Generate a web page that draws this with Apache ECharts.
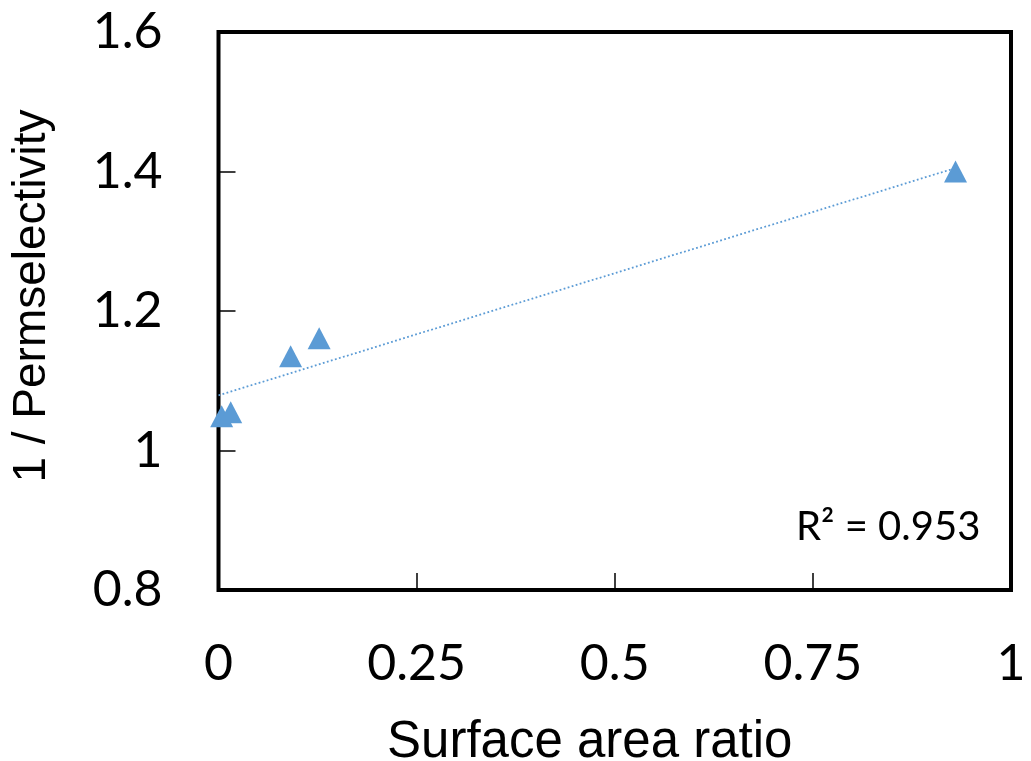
<!DOCTYPE html>
<html>
<head>
<meta charset="utf-8">
<script src="https://cdn.jsdelivr.net/npm/echarts@6/dist/echarts.min.js"></script>
<style>
html,body{margin:0;padding:0;background:#fff;}
#chart{width:1031px;height:761px;}
</style>
</head>
<body>
<div id="chart"></div>
<script>
// Data
var surfaceAreaRatio = [0.004, 0.0154, 0.091, 0.127, 0.930];
var invPermselectivity = [1.049, 1.055, 1.135, 1.161, 1.400];
// Linear trendline endpoints (as drawn in the reference)
var trendX = [0, 0.930];
var trendY = [1.079, 1.405];
var xTicks = {min: 0, max: 1, interval: 0.25};
var yTicks = {min: 0.8, max: 1.6, interval: 0.2};
var rSquaredLabel = 'R² = 0.953';
var xTitle = 'Surface area ratio';
var yTitle = '1 / Permselectivity';

var points = surfaceAreaRatio.map(function (x, i) { return [x, invPermselectivity[i]]; });
var trend = trendX.map(function (x, i) { return [x, trendY[i]]; });

var chart = echarts.init(document.getElementById('chart'), null, {renderer: 'canvas'});
var tickFont = 'Lato, "Open Sans", sans-serif';
var titleFont = '"Liberation Sans", Arial, sans-serif';
var blue = '#5B9BD5';

chart.setOption({
  animation: false,
  backgroundColor: '#ffffff',
  grid: {
    left: 218.5, right: 20, top: 32, bottom: 171,
    containLabel: false, outerBoundsMode: 'none',
    show: true, borderColor: '#000', borderWidth: 4, backgroundColor: 'transparent'
  },
  xAxis: {
    type: 'value', min: xTicks.min, max: xTicks.max, interval: xTicks.interval,
    name: xTitle, nameLocation: 'middle', nameGap: 127,
    nameTextStyle: {fontFamily: titleFont, fontSize: 51, color: '#000', padding: [0, 50, 0, 0]},
    axisLine: {show: false},
    axisTick: {show: true, inside: true, length: 17, lineStyle: {color: '#000', width: 1.5}},
    axisLabel: {fontFamily: tickFont, fontSize: 50, color: '#000', margin: 49},
    splitLine: {show: false}
  },
  yAxis: {
    type: 'value', min: yTicks.min, max: yTicks.max, interval: yTicks.interval,
    name: yTitle, nameLocation: 'middle', nameGap: 163,
    nameTextStyle: {fontFamily: titleFont, fontSize: 46, color: '#000', padding: [0, 0, 0, 30]},
    axisLine: {show: false},
    axisTick: {show: true, inside: true, length: 17, lineStyle: {color: '#000', width: 1.5}},
    axisLabel: {fontFamily: tickFont, fontSize: 50, color: '#000', margin: 56},
    splitLine: {show: false}
  },
  graphic: [{
    type: 'text', left: 796, top: 507,
    style: {text: rSquaredLabel, fontFamily: tickFont, fontSize: 40, fill: '#000'}
  }],
  series: [{
    type: 'line', data: trend, showSymbol: false, symbol: 'none',
    lineStyle: {color: blue, width: 1.8, type: [1.8, 2.4]},
    z: 2
  }, {
    type: 'scatter', data: points, symbol: 'triangle', symbolSize: [23, 22],
    itemStyle: {color: blue, opacity: 1},
    z: 3
  }]
});
</script>
</body>
</html>
